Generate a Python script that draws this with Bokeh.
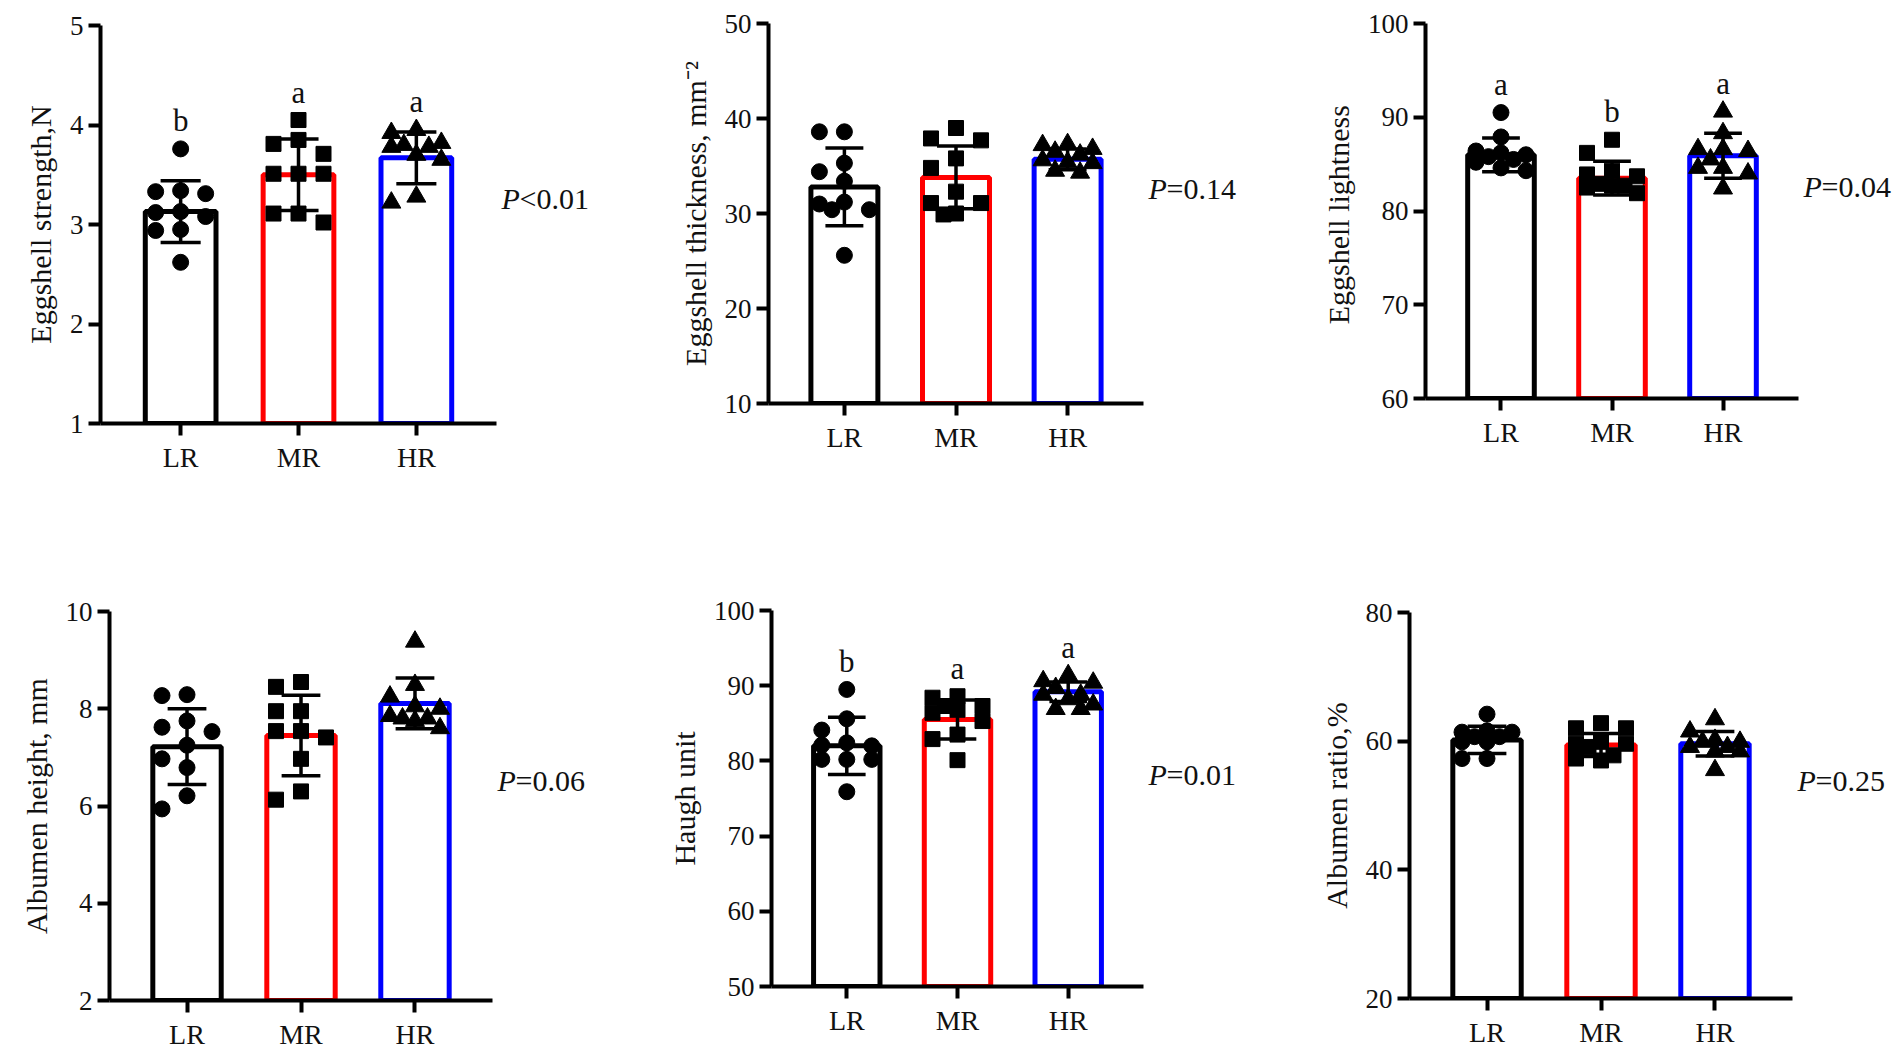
from bokeh.plotting import figure
from bokeh.layouts import column, row
from bokeh.models import Range1d, FixedTicker
from bokeh.embed import file_html
from bokeh.resources import INLINE
from bokeh.core.properties import value

groups = ["LR", "MR", "HR"]

# ---- Eggshell strength, N ----
strength_LR = [3.76, 3.34, 3.33, 3.31, 3.13, 3.12, 3.08, 2.95, 2.94, 2.62]
strength_MR = [4.05, 3.85, 3.81, 3.71, 3.51, 3.51, 3.51, 3.11, 3.11, 3.02]
strength_HR = [3.95, 3.92, 3.82, 3.80, 3.78, 3.78, 3.70, 3.65, 3.28, 3.22]
strength_mean = [3.13, 3.50, 3.67]
strength_sd = [0.31, 0.36, 0.26]
strength_letters = ["b", "a", "a"]
strength_p = "<0.01"
strength_yticks = [1, 2, 3, 4, 5]

# ---- Eggshell thickness ----
thick_LR = [38.6, 38.6, 35.3, 34.4, 33.4, 31.2, 31.0, 30.4, 30.4, 25.6]
thick_MR = [39.0, 37.9, 37.7, 35.8, 34.8, 32.3, 31.1, 31.1, 30.0, 29.9]
thick_HR = [37.3, 37.2, 36.8, 36.5, 36.2, 35.6, 35.4, 35.3, 34.5, 34.3]
thick_mean = [32.8, 33.8, 35.7]
thick_sd = [4.1, 3.3, 1.1]
thick_letters = None
thick_p = "=0.14"
thick_yticks = [10, 20, 30, 40, 50]

# ---- Eggshell lightness ----
light_LR = [90.5, 87.9, 86.4, 86.2, 86.0, 85.8, 85.5, 85.2, 84.6, 84.3]
light_MR = [87.6, 86.2, 84.3, 83.9, 83.7, 82.9, 82.7, 82.7, 82.5, 81.9]
light_HR = [90.6, 88.3, 86.6, 86.6, 86.4, 85.5, 84.6, 84.6, 84.0, 82.4]
light_mean = [86.0, 83.5, 85.9]
light_sd = [1.8, 1.8, 2.4]
light_letters = ["a", "b", "a"]
light_p = "=0.04"
light_yticks = [60, 70, 80, 90, 100]

# ---- Albumen height, mm ----
aheight_LR = [8.29, 8.27, 7.75, 7.62, 7.53, 7.25, 6.97, 6.79, 6.21, 5.94]
aheight_MR = [8.55, 8.45, 7.95, 7.95, 7.54, 7.54, 7.41, 6.97, 6.30, 6.13]
aheight_HR = [9.38, 8.49, 8.25, 8.05, 8.00, 7.85, 7.80, 7.80, 7.75, 7.60]
aheight_mean = [7.22, 7.45, 8.11]
aheight_sd = [0.78, 0.83, 0.52]
aheight_letters = None
aheight_p = "=0.06"
aheight_yticks = [2, 4, 6, 8, 10]

# ---- Haugh unit ----
haugh_LR = [89.5, 85.6, 84.1, 82.4, 82.1, 82.0, 80.2, 80.2, 80.2, 75.9]
haugh_MR = [88.6, 88.4, 87.3, 87.3, 86.8, 86.4, 85.3, 83.5, 82.9, 80.1]
haugh_HR = [91.4, 90.6, 90.4, 89.7, 88.8, 88.8, 88.2, 87.5, 86.9, 86.9]
haugh_mean = [82.0, 85.5, 89.2]
haugh_sd = [3.8, 2.6, 1.3]
haugh_letters = ["b", "a", "a"]
haugh_p = "=0.01"
haugh_yticks = [50, 60, 70, 80, 90, 100]

# ---- Albumen ratio, % ----
aratio_LR = [64.2, 61.6, 61.4, 61.4, 60.7, 60.7, 59.9, 59.9, 57.3, 57.3]
aratio_MR = [62.8, 62.0, 62.0, 59.9, 59.6, 59.6, 59.1, 57.8, 57.3, 57.0]
aratio_HR = [63.4, 61.5, 60.2, 59.9, 59.9, 59.1, 59.1, 58.4, 58.4, 55.5]
aratio_mean = [60.2, 59.4, 59.6]
aratio_sd = [2.1, 1.8, 1.9]
aratio_letters = None
aratio_p = "=0.25"
aratio_yticks = [20, 40, 60, 80]

FONT = "Liberation Serif"
TXT = "#111111"
BAR_COLORS = ["#000000", "#ff0000", "#0000ff"]
MARKERS = ["circle", "square", "triangle"]
MSIZES = [16, 15, 19]


def swarm(vals, px_y, px_x, d=15.0, step=25.0):
    placed = []
    offs = [0.0] * len(vals)
    order = sorted(range(len(vals)), key=lambda i: -vals[i])
    cands = [0, -1, 1, -0.5, 0.5]
    for i in order:
        best, best_d = 0.0, -1.0
        for c in cands:
            ox = c * step
            md = min([((ox - px) ** 2 + ((vals[i] - vy) * px_y) ** 2) ** 0.5
                      for (px, vy) in placed] or [1e9])
            if md >= d:
                best = ox
                break
            if md > best_d:
                best, best_d = ox, md
        placed.append((best, vals[i]))
        offs[i] = best / px_x
    return offs


def make_panel(ylabel, series, means, sds, letters, ptext, yticks, geom):
    W, H, L, FA, T, FH = geom
    R = 2
    B = H - T - FH
    fw = W - L - R
    x0, xa = -0.68, 2.68          # x-axis extent (data units)
    px_x = FA / (xa - x0)
    x1 = x0 + fw / px_x           # frame extends right to hold the P text
    y0, y1 = yticks[0], yticks[-1]
    px_y = FH / (y1 - y0)
    p = figure(width=W, height=H, x_range=Range1d(x0, x1), y_range=Range1d(y0, y1),
               output_backend="svg", toolbar_location=None,
               min_border_left=L, min_border_right=R, min_border_top=T, min_border_bottom=B)
    p.outline_line_color = None
    p.grid.visible = False
    p.background_fill_color = "white"
    p.border_fill_color = "white"

    xs = list(range(len(groups)))
    p.vbar(x=xs, top=means, bottom=y0, width=0.6, fill_color="white",
           line_color=BAR_COLORS, line_width=5)

    for i, vals in enumerate(series):
        offs = swarm(vals, px_y, px_x)
        p.scatter(x=[i + o for o in offs], y=vals, marker=MARKERS[i], size=MSIZES[i],
                  fill_color="black", line_color="black")

    lo = [m - s for m, s in zip(means, sds)]
    hi = [m + s for m, s in zip(means, sds)]
    cap = 0.17
    p.segment(x0=xs, y0=lo, x1=xs, y1=hi, line_color="black", line_width=3.5)
    p.segment(x0=[x - cap for x in xs], y0=hi, x1=[x + cap for x in xs], y1=hi,
              line_color="black", line_width=3.5)
    p.segment(x0=[x - cap for x in xs], y0=lo, x1=[x + cap for x in xs], y1=lo,
              line_color="black", line_width=3.5)

    if letters:
        tops = [max(max(v), h) for v, h in zip(series, hi)]
        p.text(x=xs, y=tops, text=letters, text_align="center", text_baseline="alphabetic",
               y_offset=-28, text_font=value(FONT), text_font_size=value("31px"),
               text_color=TXT)

    py = y0 + 0.565 * (y1 - y0)
    p.text(x=[xa], y=[py], text=["P"], x_offset=5, text_align="left", text_baseline="middle",
           text_font=value(FONT), text_font_style=value("italic"),
           text_font_size=value("30px"), text_color=TXT)
    p.text(x=[xa], y=[py], text=[ptext], x_offset=23, text_align="left",
           text_baseline="middle", text_font=value(FONT),
           text_font_size=value("30px"), text_color=TXT)

    for ax in (p.xaxis[0], p.yaxis[0]):
        ax.axis_line_width = 4
        ax.axis_line_color = "black"
        ax.major_tick_line_width = 4
        ax.major_tick_line_color = "black"
        ax.major_tick_out = 12
        ax.major_tick_in = 0
        ax.minor_tick_line_color = None
        ax.major_label_text_font = FONT
        ax.major_label_text_color = TXT

    p.xaxis.bounds = (x0, xa)
    p.xaxis.ticker = FixedTicker(ticks=xs)
    p.xaxis.major_label_overrides = {i: g for i, g in enumerate(groups)}
    p.xaxis.major_label_text_font_size = "28px"
    p.xaxis.major_label_standoff = 6

    p.yaxis.ticker = FixedTicker(ticks=yticks)
    p.yaxis.major_label_text_font_size = "27px"
    p.yaxis.major_label_standoff = 5
    p.yaxis.axis_label = ylabel
    p.yaxis.axis_label_text_font = FONT
    p.yaxis.axis_label_text_font_size = "30px"
    p.yaxis.axis_label_text_font_style = "normal"
    p.yaxis.axis_label_text_color = TXT
    p.yaxis.axis_label_standoff = 10
    return p


# geometry: (width, height, left border, x-axis length, top border, frame height)
p1 = make_panel("Eggshell strength,N", [strength_LR, strength_MR, strength_HR],
                strength_mean, strength_sd, strength_letters, strength_p, strength_yticks,
                (612, 540, 100, 396, 25, 398))
p2 = make_panel("Eggshell thickness, mm\u207b\u00b2", [thick_LR, thick_MR, thick_HR],
                thick_mean, thick_sd, thick_letters, thick_p, thick_yticks,
                (650, 540, 156, 375, 23, 380))
p3 = make_panel("Eggshell  lightness", [light_LR, light_MR, light_HR],
                light_mean, light_sd, light_letters, light_p, light_yticks,
                (639, 540, 163, 373, 23, 375))
p4 = make_panel("Albumen height, mm", [aheight_LR, aheight_MR, aheight_HR],
                aheight_mean, aheight_sd, aheight_letters, aheight_p, aheight_yticks,
                (612, 520, 109, 383, 71, 389))
p5 = make_panel("Haugh unit", [haugh_LR, haugh_MR, haugh_HR],
                haugh_mean, haugh_sd, haugh_letters, haugh_p, haugh_yticks,
                (650, 520, 159, 372, 70, 376))
p6 = make_panel("Albumen ratio,%", [aratio_LR, aratio_MR, aratio_HR],
                aratio_mean, aratio_sd, aratio_letters, aratio_p, aratio_yticks,
                (639, 520, 147, 383, 72, 386))

layout = column(row(column(p1), column(p2), column(p3)),
                row(column(p4), column(p5), column(p6)))
open("out.html", "w").write(file_html(layout, INLINE))
